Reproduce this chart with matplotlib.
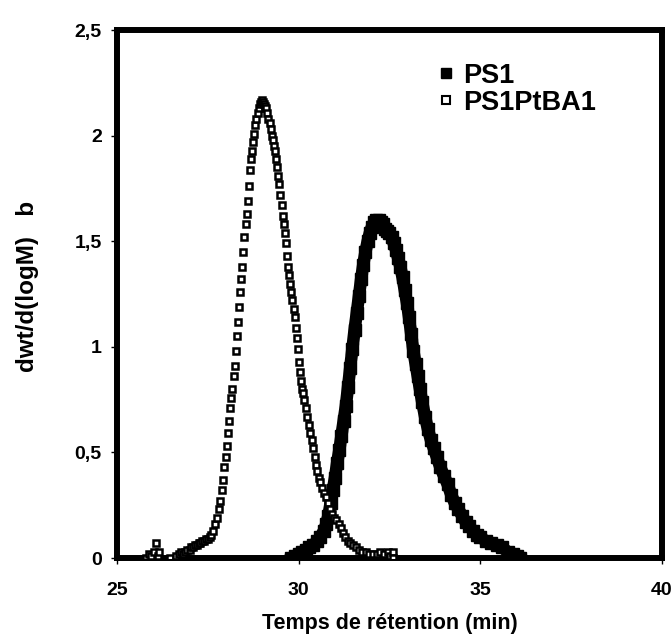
import matplotlib
matplotlib.use("Agg")
import matplotlib.pyplot as plt
from matplotlib.lines import Line2D

plt.rcParams['font.family'] = ['Liberation Sans', 'DejaVu Sans']
plt.rcParams['font.weight'] = 'bold'

# PS1 : retention time (min) and dwt/d(logM)
ps1_t = [29.80, 29.90, 30.00, 30.10, 30.20, 30.30, 30.40, 30.50, 30.60, 30.70,
         30.76, 30.82, 30.88, 30.94, 31.00, 31.06, 31.12, 31.18, 31.24, 31.30,
         31.36, 31.42, 31.48, 31.54, 31.60, 31.66, 31.72, 31.78, 31.84, 31.90,
         31.96, 32.02, 32.08, 32.14, 32.20, 32.26, 32.32, 32.38, 32.44, 32.50,
         32.56, 32.62, 32.68, 32.74, 32.80, 32.86, 32.92, 32.98, 33.04, 33.10,
         33.16, 33.22, 33.28, 33.34, 33.40, 33.48, 33.56, 33.64, 33.72, 33.80,
         33.90, 34.00, 34.10, 34.20, 34.30, 34.40, 34.50, 34.60, 34.70, 34.80,
         34.90, 35.00, 35.15, 35.30, 35.45, 35.60, 35.75, 35.90, 36.00, 36.10]
ps1_v = [0.00, 0.01, 0.02, 0.03, 0.04, 0.05, 0.06, 0.08, 0.10, 0.13,
         0.16, 0.20, 0.26, 0.32, 0.38, 0.45, 0.51, 0.58, 0.65, 0.72,
         0.81, 0.90, 0.99, 1.08, 1.16, 1.24, 1.32, 1.39, 1.45, 1.50,
         1.54, 1.57, 1.59, 1.60, 1.60, 1.59, 1.58, 1.56, 1.55, 1.54,
         1.52, 1.49, 1.46, 1.42, 1.38, 1.33, 1.27, 1.21, 1.14, 1.06,
         0.98, 0.92, 0.86, 0.80, 0.74, 0.67, 0.61, 0.56, 0.52, 0.48,
         0.43, 0.39, 0.35, 0.30, 0.26, 0.23, 0.20, 0.17, 0.15, 0.13,
         0.11, 0.10, 0.08, 0.07, 0.06, 0.05, 0.03, 0.02, 0.01, 0.00]

# PS1PtBA1
pba_t = [25.80, 25.88, 25.95, 26.02, 26.08, 26.12, 26.16, 26.45, 26.62, 26.70,
         26.76, 26.82, 26.88, 26.94, 27.00, 27.05, 27.10, 27.15, 27.20, 27.25,
         27.30, 27.35, 27.40, 27.45, 27.50, 27.55, 27.60, 27.65, 27.70, 27.75,
         27.80, 27.84, 27.88, 27.92, 27.96, 28.00, 28.03, 28.06, 28.09, 28.12,
         28.15, 28.18, 28.21, 28.24, 28.27, 28.30, 28.33, 28.36, 28.39, 28.42,
         28.45, 28.48, 28.51, 28.54, 28.57, 28.60, 28.63, 28.66, 28.69, 28.72,
         28.75, 28.78, 28.81, 28.84, 28.87, 28.90, 28.93, 28.96, 28.99, 29.02,
         29.05, 29.08, 29.11, 29.14, 29.17, 29.20, 29.23, 29.26, 29.29, 29.32,
         29.35, 29.38, 29.41, 29.44, 29.47, 29.50, 29.53, 29.56, 29.59, 29.62,
         29.65, 29.68, 29.71, 29.74, 29.77, 29.80, 29.83, 29.86, 29.89, 29.92,
         29.95, 29.98, 30.01, 30.04, 30.07, 30.10, 30.13, 30.16, 30.20, 30.24,
         30.28, 30.32, 30.36, 30.40, 30.44, 30.48, 30.52, 30.56, 30.60, 30.65,
         30.70, 30.75, 30.80, 30.86, 30.92, 30.98, 31.04, 31.10, 31.16, 31.22,
         31.28, 31.35, 31.42, 31.50, 31.58, 31.66, 31.75, 31.85, 31.95, 32.05,
         32.15, 32.25, 32.35, 32.45, 32.52, 32.60, 32.60]
pba_v = [0.00, 0.02, 0.01, 0.03, 0.07, 0.01, 0.03, 0.00, 0.01, 0.02,
         0.03, 0.02, 0.03, 0.04, 0.04, 0.05, 0.05, 0.06, 0.06, 0.07,
         0.07, 0.08, 0.08, 0.09, 0.09, 0.10, 0.11, 0.13, 0.16, 0.19,
         0.23, 0.27, 0.32, 0.37, 0.43, 0.48, 0.53, 0.59, 0.65, 0.71,
         0.76, 0.80, 0.86, 0.91, 0.98, 1.05, 1.12, 1.19, 1.26, 1.32,
         1.38, 1.45, 1.52, 1.58, 1.63, 1.69, 1.76, 1.84, 1.89, 1.93,
         1.97, 2.01, 2.05, 2.08, 2.11, 2.13, 2.15, 2.16, 2.17, 2.16,
         2.15, 2.14, 2.13, 2.11, 2.08, 2.06, 2.03, 2.00, 1.98, 1.95,
         1.93, 1.89, 1.85, 1.81, 1.77, 1.72, 1.67, 1.62, 1.58, 1.54,
         1.49, 1.43, 1.38, 1.34, 1.30, 1.26, 1.22, 1.18, 1.14, 1.09,
         1.04, 0.99, 0.93, 0.88, 0.84, 0.80, 0.78, 0.75, 0.71, 0.67,
         0.63, 0.59, 0.56, 0.52, 0.48, 0.44, 0.41, 0.38, 0.36, 0.33,
         0.31, 0.29, 0.26, 0.23, 0.21, 0.19, 0.18, 0.16, 0.14, 0.12,
         0.10, 0.08, 0.07, 0.06, 0.05, 0.04, 0.03, 0.03, 0.02, 0.02,
         0.02, 0.03, 0.02, 0.03, 0.01, 0.03, 0.00]

x_ticks = [25, 30, 35, 40]
y_ticks = [0, 0.5, 1, 1.5, 2, 2.5]
y_tick_labels = ['0', '0,5', '1', '1,5', '2', '2,5']

fig = plt.figure(figsize=(6.72, 6.44), dpi=100)
ax = fig.add_axes([0.174, 0.1335, 0.811, 0.8195])

ax.plot(ps1_t, ps1_v, color='black', lw=9, marker='s', ms=8.5,
        mfc='black', mec='black', solid_joinstyle='round', zorder=2)
ax.plot(pba_t, pba_v, ls='none', marker='s', ms=5, mfc='white',
        mec='black', mew=1.8, zorder=3)

ax.set_xlim(25, 40)
ax.set_ylim(0, 2.5)
ax.set_xticks(x_ticks)
ax.set_yticks(y_ticks)
ax.set_yticklabels(y_tick_labels)
ax.tick_params(direction='out', length=4, width=1, labelsize=14)
ax.tick_params(axis='x', pad=13)
ax.tick_params(axis='y', pad=7)
for lab in ax.get_xticklabels() + ax.get_yticklabels():
    lab.set_fontweight('bold')
for sp in ax.spines.values():
    sp.set_linewidth(4.3)

ax.set_xlabel('Temps de rétention (min)', fontsize=15.5, fontweight='bold', labelpad=10)
ax.set_ylabel('dwt/d(logM)   b', fontsize=17.5, fontweight='bold')
ax.yaxis.set_label_coords(-0.143, 0.515)

handles = [Line2D([], [], ls='none', marker='s', ms=7, mfc='black', mec='black'),
           Line2D([], [], ls='none', marker='s', ms=5.5, mfc='white', mec='black', mew=1.5)]
ax.legend(handles, ['PS1', 'PS1PtBA1'], loc='upper left', bbox_to_anchor=(0.534, 0.985),
          frameon=False, handletextpad=0.15, handlelength=1.0, labelspacing=0.05,
          prop={'family': 'Liberation Sans', 'weight': 'bold', 'size': 19.5})

fig.savefig('out.png', dpi=100)
